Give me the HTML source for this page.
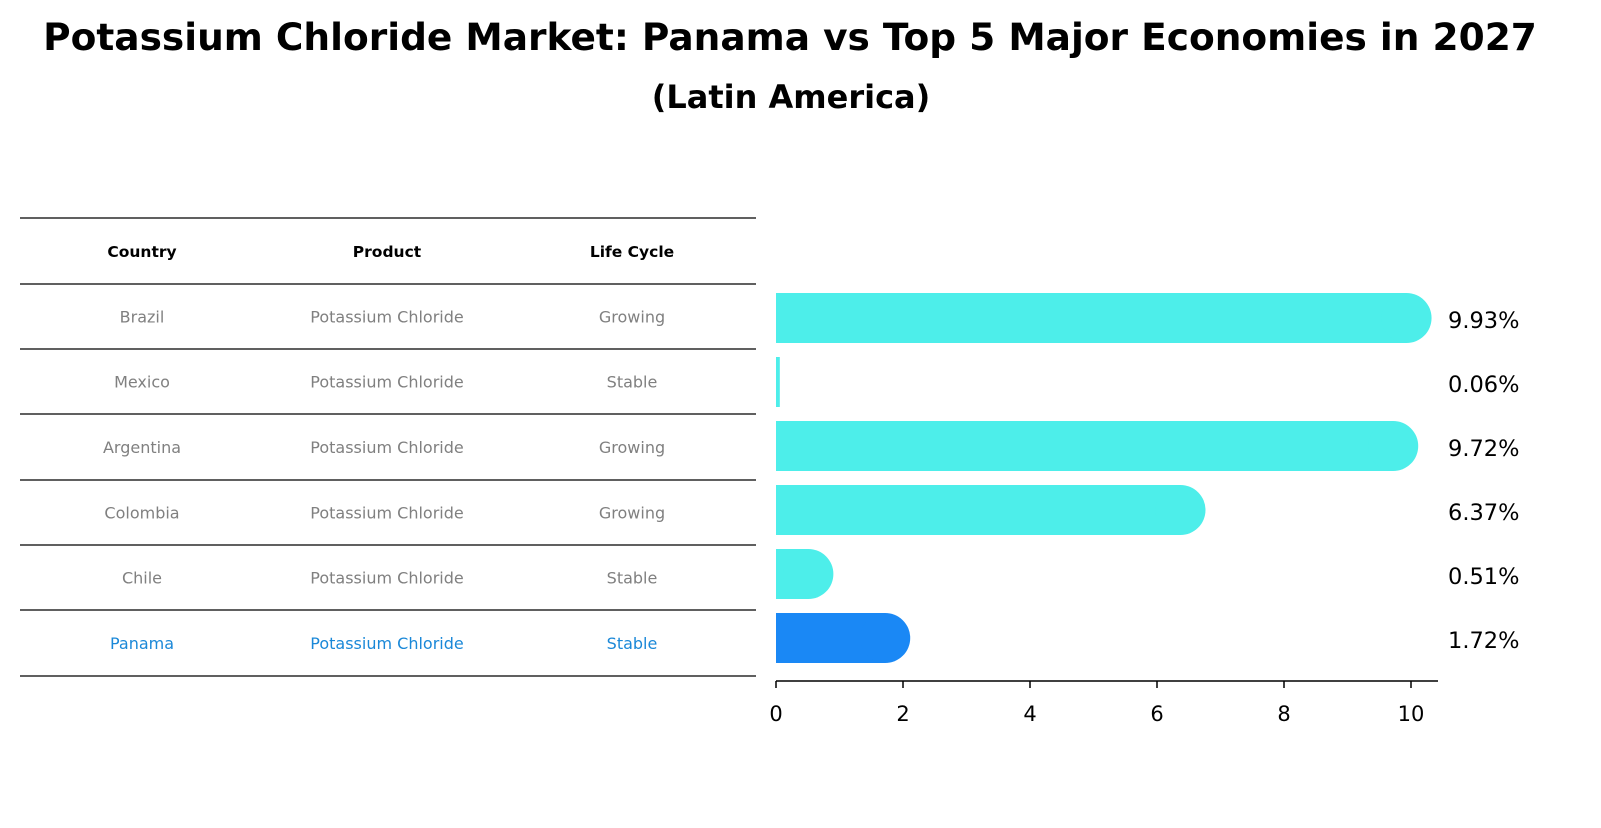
<!DOCTYPE html>
<html><head><meta charset="utf-8"><style>
body{margin:0;background:#fff;width:1601px;height:823px;overflow:hidden;font-family:"Liberation Sans","DejaVu Sans",sans-serif}
</style></head><body>
<svg width="1601" height="823" xmlns="http://www.w3.org/2000/svg" font-family="DejaVu Sans, Liberation Sans, sans-serif">
<text x="790" y="50" text-anchor="middle" font-size="37.5" font-weight="bold">Potassium Chloride Market: Panama vs Top 5 Major Economies in 2027</text>
<text x="791" y="108" text-anchor="middle" font-size="32" font-weight="bold">(Latin America)</text>
<g id="table"></g>
<g id="bars"></g>
</svg>
<script>
const countries=["Brazil","Mexico","Argentina","Colombia","Chile","Panama"];
const products=["Potassium Chloride","Potassium Chloride","Potassium Chloride","Potassium Chloride","Potassium Chloride","Potassium Chloride"];
const lifecycles=["Growing","Stable","Growing","Growing","Stable","Stable"];
const values=[9.93,0.06,9.72,6.37,0.51,1.72];
const ticks=[0,2,4,6,8,10];
const NS="http://www.w3.org/2000/svg";
function mk(tag,attrs,parent){const e=document.createElementNS(NS,tag);for(const k in attrs)e.setAttribute(k,attrs[k]);parent.appendChild(e);return e;}
const table=document.getElementById('table');
const lineYs=[218,284,349,414,480,545,610,676];
const colX=[142,387,632];
lineYs.forEach(y=>{const l=mk('line',{x1:20,x2:756,y1:y,y2:y,stroke:'#000','stroke-width':1.2},table);

});
const headers=["Country","Product","Life Cycle"];
headers.forEach((h,i)=>{const t=mk('text',{x:colX[i],y:257,'text-anchor':'middle','font-size':15.5,'font-weight':'bold'},table);t.textContent=h;

});
countries.forEach((c,r)=>{const y=(lineYs[r+1]+lineYs[r+2])/2+6;const col=c==="Panama"?"#1a88d8":"#808080";
[c,products[r],lifecycles[r]].forEach((v,i)=>{const t=mk('text',{x:colX[i],y:y,'text-anchor':'middle','font-size':16,fill:col},table);t.textContent=v;

});});
const bars=document.getElementById('bars');
const x0=776,scale=63.5;
const xs=v=>x0+v*scale;
const rowY=r=>318+r*64;
const h=50;
values.forEach((v,r)=>{const col=countries[r]==="Panama"?"#1a88f5":"#4deeea";const cy=rowY(r);
const g=mk('g',{},bars);


const w=Math.max(xs(v)-x0,3);
mk('rect',{x:x0,y:cy-h/2,width:w,height:h,fill:col},g);
if(v>0.3){mk('circle',{cx:xs(v),cy:cy,r:h/2,fill:col},g);}
const t=mk('text',{x:1448,y:cy+10,'font-size':22.5},bars);t.textContent=v.toFixed(2)+'%';

});
const ax=mk('line',{x1:x0,x2:1438,y1:681,y2:681,stroke:'#000','stroke-width':1.5},bars);


ticks.forEach(tv=>{mk('line',{x1:xs(tv),x2:xs(tv),y1:681,y2:688,stroke:'#000','stroke-width':1.5},bars);
const t=mk('text',{x:xs(tv),y:721,'text-anchor':'middle','font-size':21},bars);t.textContent=tv;

});
</script>
</body></html>
